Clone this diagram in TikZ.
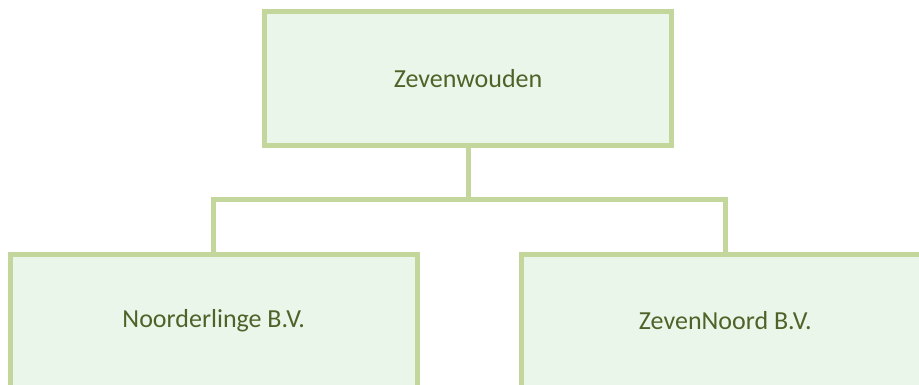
\documentclass[tikz,border=0pt]{standalone}
\usepackage{fontspec}
\setmainfont{Carlito}
\usepackage{tikz}
\usetikzlibrary{positioning}
\definecolor{orgline}{HTML}{C3D69B}
\definecolor{orgfill}{HTML}{EAF6EA}
\definecolor{orgtext}{HTML}{4F6228}

\begin{document}
\begin{tikzpicture}[x=1pt, y=-1pt,
  orgbox/.style={rectangle, draw=orgline, fill=orgfill, line width=5pt,
    minimum width=407.5pt, minimum height=134pt, text=orgtext,
    font=\fontsize{26}{30}\selectfont},
  orglink/.style={draw=orgline, line width=5pt, line join=miter}]
\useasboundingbox (0,0) rectangle (919,385);
% top level
\node[orgbox] (top) at (468,79) {Zevenwouden};
% subsidiaries
\node[orgbox] (left) at (213.75,321) {Noorderlinge B.V.};
\node[orgbox] (right) at (725.25,321) {ZevenNoord B.V.};

\coordinate (join) at (468,200);
\draw[orglink] (top.south) -- (join);
\draw[orglink] (left.north) |- (join) -| (right.north);
\end{tikzpicture}
\end{document}
